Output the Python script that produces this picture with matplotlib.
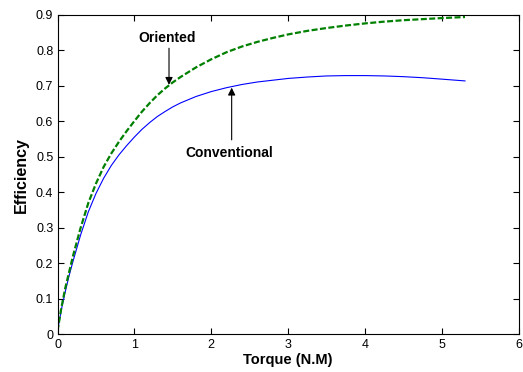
import matplotlib.pyplot as plt
import numpy as np

torque = [0, 0.05, 0.1, 0.15, 0.2, 0.3, 0.4, 0.5, 0.6, 0.7, 0.8, 0.9, 1.0, 1.1, 1.2,
          1.3, 1.4, 1.5, 1.6, 1.8, 2.0, 2.2, 2.4, 2.6, 2.8, 3.0, 3.25, 3.5, 3.75,
          4.0, 4.25, 4.5, 4.75, 5.0, 5.3]
oriented = [0.01, 0.075, 0.13, 0.175, 0.22, 0.30, 0.37, 0.425, 0.472, 0.51, 0.543,
            0.573, 0.601, 0.628, 0.652, 0.674, 0.693, 0.710, 0.725, 0.752, 0.775,
            0.795, 0.811, 0.824, 0.835, 0.845, 0.855, 0.863, 0.870, 0.876, 0.881,
            0.885, 0.888, 0.891, 0.894]
conventional = [0.01, 0.07, 0.12, 0.165, 0.205, 0.28, 0.345, 0.397, 0.440, 0.476,
                0.506, 0.532, 0.556, 0.578, 0.597, 0.614, 0.628, 0.641, 0.652, 0.670,
                0.684, 0.695, 0.704, 0.711, 0.716, 0.721, 0.725, 0.728, 0.729,
                0.729, 0.728, 0.726, 0.723, 0.719, 0.714]

plt.rcParams['font.family'] = ['Liberation Sans', 'DejaVu Sans']

fig = plt.figure(figsize=(5.23, 3.72), dpi=100)
ax = fig.add_axes([0.110, 0.101, 0.882, 0.859])

ax.plot(torque, conventional, '-', color='#0000ff', linewidth=0.8)
ax.plot(torque, oriented, '--', color='#008000', linewidth=1.6, dashes=(2.7, 1.1))

ax.set_xlim(0, 6)
ax.set_ylim(0, 0.9)
ax.set_xticks(np.arange(0, 7, 1))
ax.set_yticks(np.arange(0, 1.0, 0.1))
ax.set_yticklabels(['0', '0.1', '0.2', '0.3', '0.4', '0.5', '0.6', '0.7', '0.8', '0.9'])
ax.tick_params(direction='in', top=True, right=True, length=4, labelsize=9, pad=3)
for s in ax.spines.values():
    s.set_linewidth(0.8)

ax.set_xlabel('Torque (N.M)', fontsize=10.5, fontweight='bold', labelpad=2)
ax.set_ylabel('Efficiency', fontsize=11.5, fontweight='bold', labelpad=5)

# labels and vertical arrows
arrow = dict(arrowstyle='-|>', color='black', lw=0.8, mutation_scale=11, shrinkA=0, shrinkB=0)
ax.text(1.42, 0.835, 'Oriented', ha='center', va='center', fontsize=10, fontweight='bold')
ax.annotate('', xy=(1.45, 0.703), xytext=(1.45, 0.806), arrowprops=arrow)
ax.text(2.24, 0.51, 'Conventional', ha='center', va='center', fontsize=10, fontweight='bold')
ax.annotate('', xy=(2.265, 0.695), xytext=(2.265, 0.548), arrowprops=arrow)

fig.savefig('out.png', dpi=100)
